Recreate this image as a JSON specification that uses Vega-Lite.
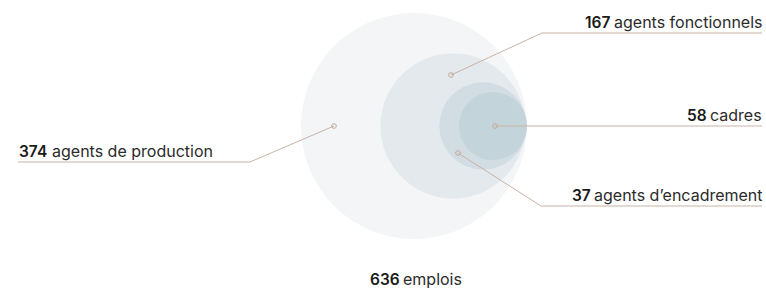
{
  "$schema": "https://vega.github.io/schema/vega-lite/v6.json",
  "width": 766,
  "height": 291,
  "padding": 0,
  "autosize": {"type": "fit", "contains": "padding"},
  "background": "white",
  "config": {"view": {"stroke": null}},
  "datasets": {
    "circles": [
      {"groupe": "636 emplois", "effectif": 636, "cx": 414, "cy": 126, "couleur": "#f3f5f7"},
      {"groupe": "fonctionnels + encadrement + cadres", "effectif": 262, "cx": 453, "cy": 126, "couleur": "#e4e9ed"},
      {"groupe": "encadrement + cadres", "effectif": 95, "cx": 483, "cy": 126, "couleur": "#d2dde3"},
      {"groupe": "cadres", "effectif": 58, "cx": 493, "cy": 126, "couleur": "#c4d4db"}
    ],
    "segments": [
      {"x": 18, "y": 162, "x2": 250, "y2": 162},
      {"x": 250, "y": 162, "x2": 334, "y2": 126},
      {"x": 451, "y": 75, "x2": 542, "y2": 33},
      {"x": 542, "y": 33, "x2": 762, "y2": 33},
      {"x": 495, "y": 126, "x2": 762, "y2": 126},
      {"x": 458, "y": 153, "x2": 541, "y2": 206},
      {"x": 541, "y": 206, "x2": 762, "y2": 206}
    ],
    "points": [
      {"x": 334, "y": 126},
      {"x": 451, "y": 75},
      {"x": 495, "y": 126},
      {"x": 458, "y": 153}
    ],
    "labels": [
      {"nombre": "374", "libelle": "agents de production", "nx": 19, "tx": 52, "y": 157},
      {"nombre": "167", "libelle": "agents fonctionnels", "nx": 585, "tx": 614, "y": 28},
      {"nombre": "58", "libelle": "cadres", "nx": 687, "tx": 710, "y": 121},
      {"nombre": "37", "libelle": "agents d’encadrement", "nx": 572, "tx": 594, "y": 201},
      {"nombre": "636", "libelle": "emplois", "nx": 370, "tx": 403, "y": 285}
    ]
  },
  "layer": [
    {
      "data": {"name": "circles"},
      "mark": {"type": "point", "shape": "circle", "filled": true, "opacity": 1, "strokeWidth": 0},
      "encoding": {
        "x": {"field": "cx", "type": "quantitative", "scale": {"domain": [0, 766], "nice": false, "zero": false}, "axis": null},
        "y": {"field": "cy", "type": "quantitative", "scale": {"domain": [0, 291], "nice": false, "zero": false, "reverse": true}, "axis": null},
        "size": {"field": "effectif", "type": "quantitative", "scale": {"type": "linear", "domain": [0, 636], "range": [0, 51076], "zero": true}, "legend": null},
        "color": {"field": "couleur", "type": "nominal", "scale": null, "legend": null},
        "order": {"field": "effectif", "sort": "descending"}
      }
    },
    {
      "data": {"name": "segments"},
      "mark": {"type": "rule", "color": "#c9b3a6", "strokeWidth": 1},
      "encoding": {
        "x": {"field": "x", "type": "quantitative"},
        "y": {"field": "y", "type": "quantitative"},
        "x2": {"field": "x2"},
        "y2": {"field": "y2"}
      }
    },
    {
      "data": {"name": "points"},
      "mark": {"type": "point", "shape": "circle", "filled": false, "color": "#c4a899", "size": 22, "strokeWidth": 1, "opacity": 1},
      "encoding": {
        "x": {"field": "x", "type": "quantitative"},
        "y": {"field": "y", "type": "quantitative"}
      }
    },
    {
      "data": {"name": "labels"},
      "mark": {"type": "text", "align": "left", "baseline": "alphabetic", "font": "Inter", "fontSize": 15.5, "fontWeight": 600, "color": "#1a1a1a"},
      "encoding": {
        "x": {"field": "nx", "type": "quantitative"},
        "y": {"field": "y", "type": "quantitative"},
        "text": {"field": "nombre"}
      }
    },
    {
      "data": {"name": "labels"},
      "mark": {"type": "text", "align": "left", "baseline": "alphabetic", "font": "Inter", "fontSize": 16, "fontWeight": "normal", "color": "#2b2b2b"},
      "encoding": {
        "x": {"field": "tx", "type": "quantitative"},
        "y": {"field": "y", "type": "quantitative"},
        "text": {"field": "libelle"}
      }
    }
  ]
}
